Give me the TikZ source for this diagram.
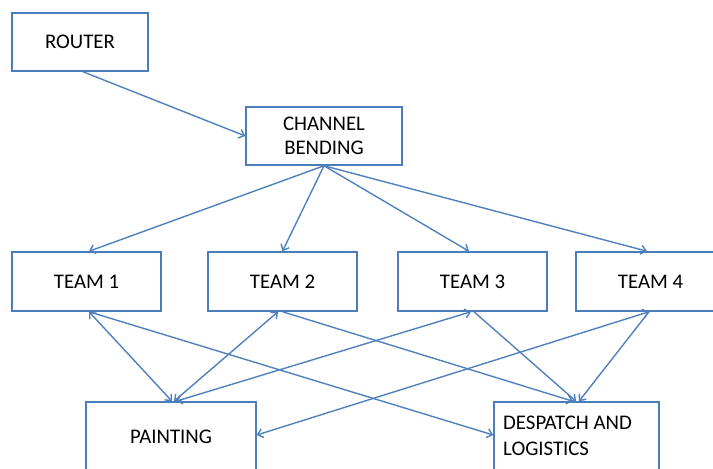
\documentclass[tikz,border=0pt]{standalone}
\usepackage{fontspec}
\setmainfont{Carlito}
\usetikzlibrary{arrows.meta}
\definecolor{linkblue}{HTML}{4F81BD}
\definecolor{boxblue}{HTML}{4A7EBB}
\begin{document}
\begin{tikzpicture}[x=1pt,y=-1pt,
  box/.style={draw=boxblue, line width=1.5pt, fill=white, minimum width=#1,
    minimum height=59pt, inner sep=0pt, align=center,
    font=\fontsize{20.8}{24}\selectfont},
  box/.default=149pt,
  label/.style={inner sep=0pt, align=left, font=\fontsize{20.8}{26}\selectfont},
  tip/.tip={Straight Barb[length=5pt,width=9pt]},
  link/.style={draw=linkblue, line width=1.4pt, -tip},
  both/.style={draw=linkblue, line width=1.4pt, tip-tip}]

\useasboundingbox (0,0) rectangle (713,469);
\clip (0,0) rectangle (713,469);

% boxes
\node[box=136pt, minimum height=58pt] (router) at (80,42) {ROUTER};
\node[box=156pt, minimum height=58pt] (cb) at (324,136) {CHANNEL\\BENDING};
\node[box] (team1) at (86.5,281.5) {TEAM 1};
\node[box] (team2) at (282.5,281.5) {TEAM 2};
\node[box] (team3) at (472.5,281.5) {TEAM 3};
\node[box] (team4) at (650.5,281.5) {TEAM 4};
\node[box=170pt, minimum height=69pt] (painting) at (171,436.5) {PAINTING};
\node[box=165pt, minimum height=69pt] (despatch) at (576.5,436.5) {};
\node[label, anchor=west] (despatchtext) at (503,436) {DESPATCH AND\\LOGISTICS};

% router to channel bending
\draw[link] ([xshift=3]router.south) -- (cb.west);

% channel bending to the teams
\draw[link] (cb.south) -- ([xshift=2.5]team1.north);
\draw[link] (cb.south) -- (team2.north);
\draw[link] (cb.south) -- ([xshift=-3.5]team3.north);
\draw[link] (cb.south) -- ([xshift=-3.5]team4.north);

% teams to painting (two-way)
\draw[both] ([xshift=2.5]team1.south) -- ([xshift=1]painting.north);
\draw[both] ([xshift=-4.5]team2.south) -- ([xshift=3]painting.north);
\draw[both] ([xshift=-1.5]team3.south) -- ([xshift=5]painting.north);
\draw[both] ([xshift=-1.5]team4.south) -- ([yshift=1.5]painting.east);

% teams to despatch and logistics
\draw[link] ([xshift=2.5]team1.south) -- ([yshift=1.5]despatch.west);
\draw[link] (team2.south) -- ([xshift=-3.5]despatch.north);
\draw[link] ([xshift=1.5]team3.south) -- ([xshift=-0.5]despatch.north);
\draw[link] ([xshift=-1.5]team4.south) -- ([xshift=2.5]despatch.north);
\end{tikzpicture}
\end{document}
